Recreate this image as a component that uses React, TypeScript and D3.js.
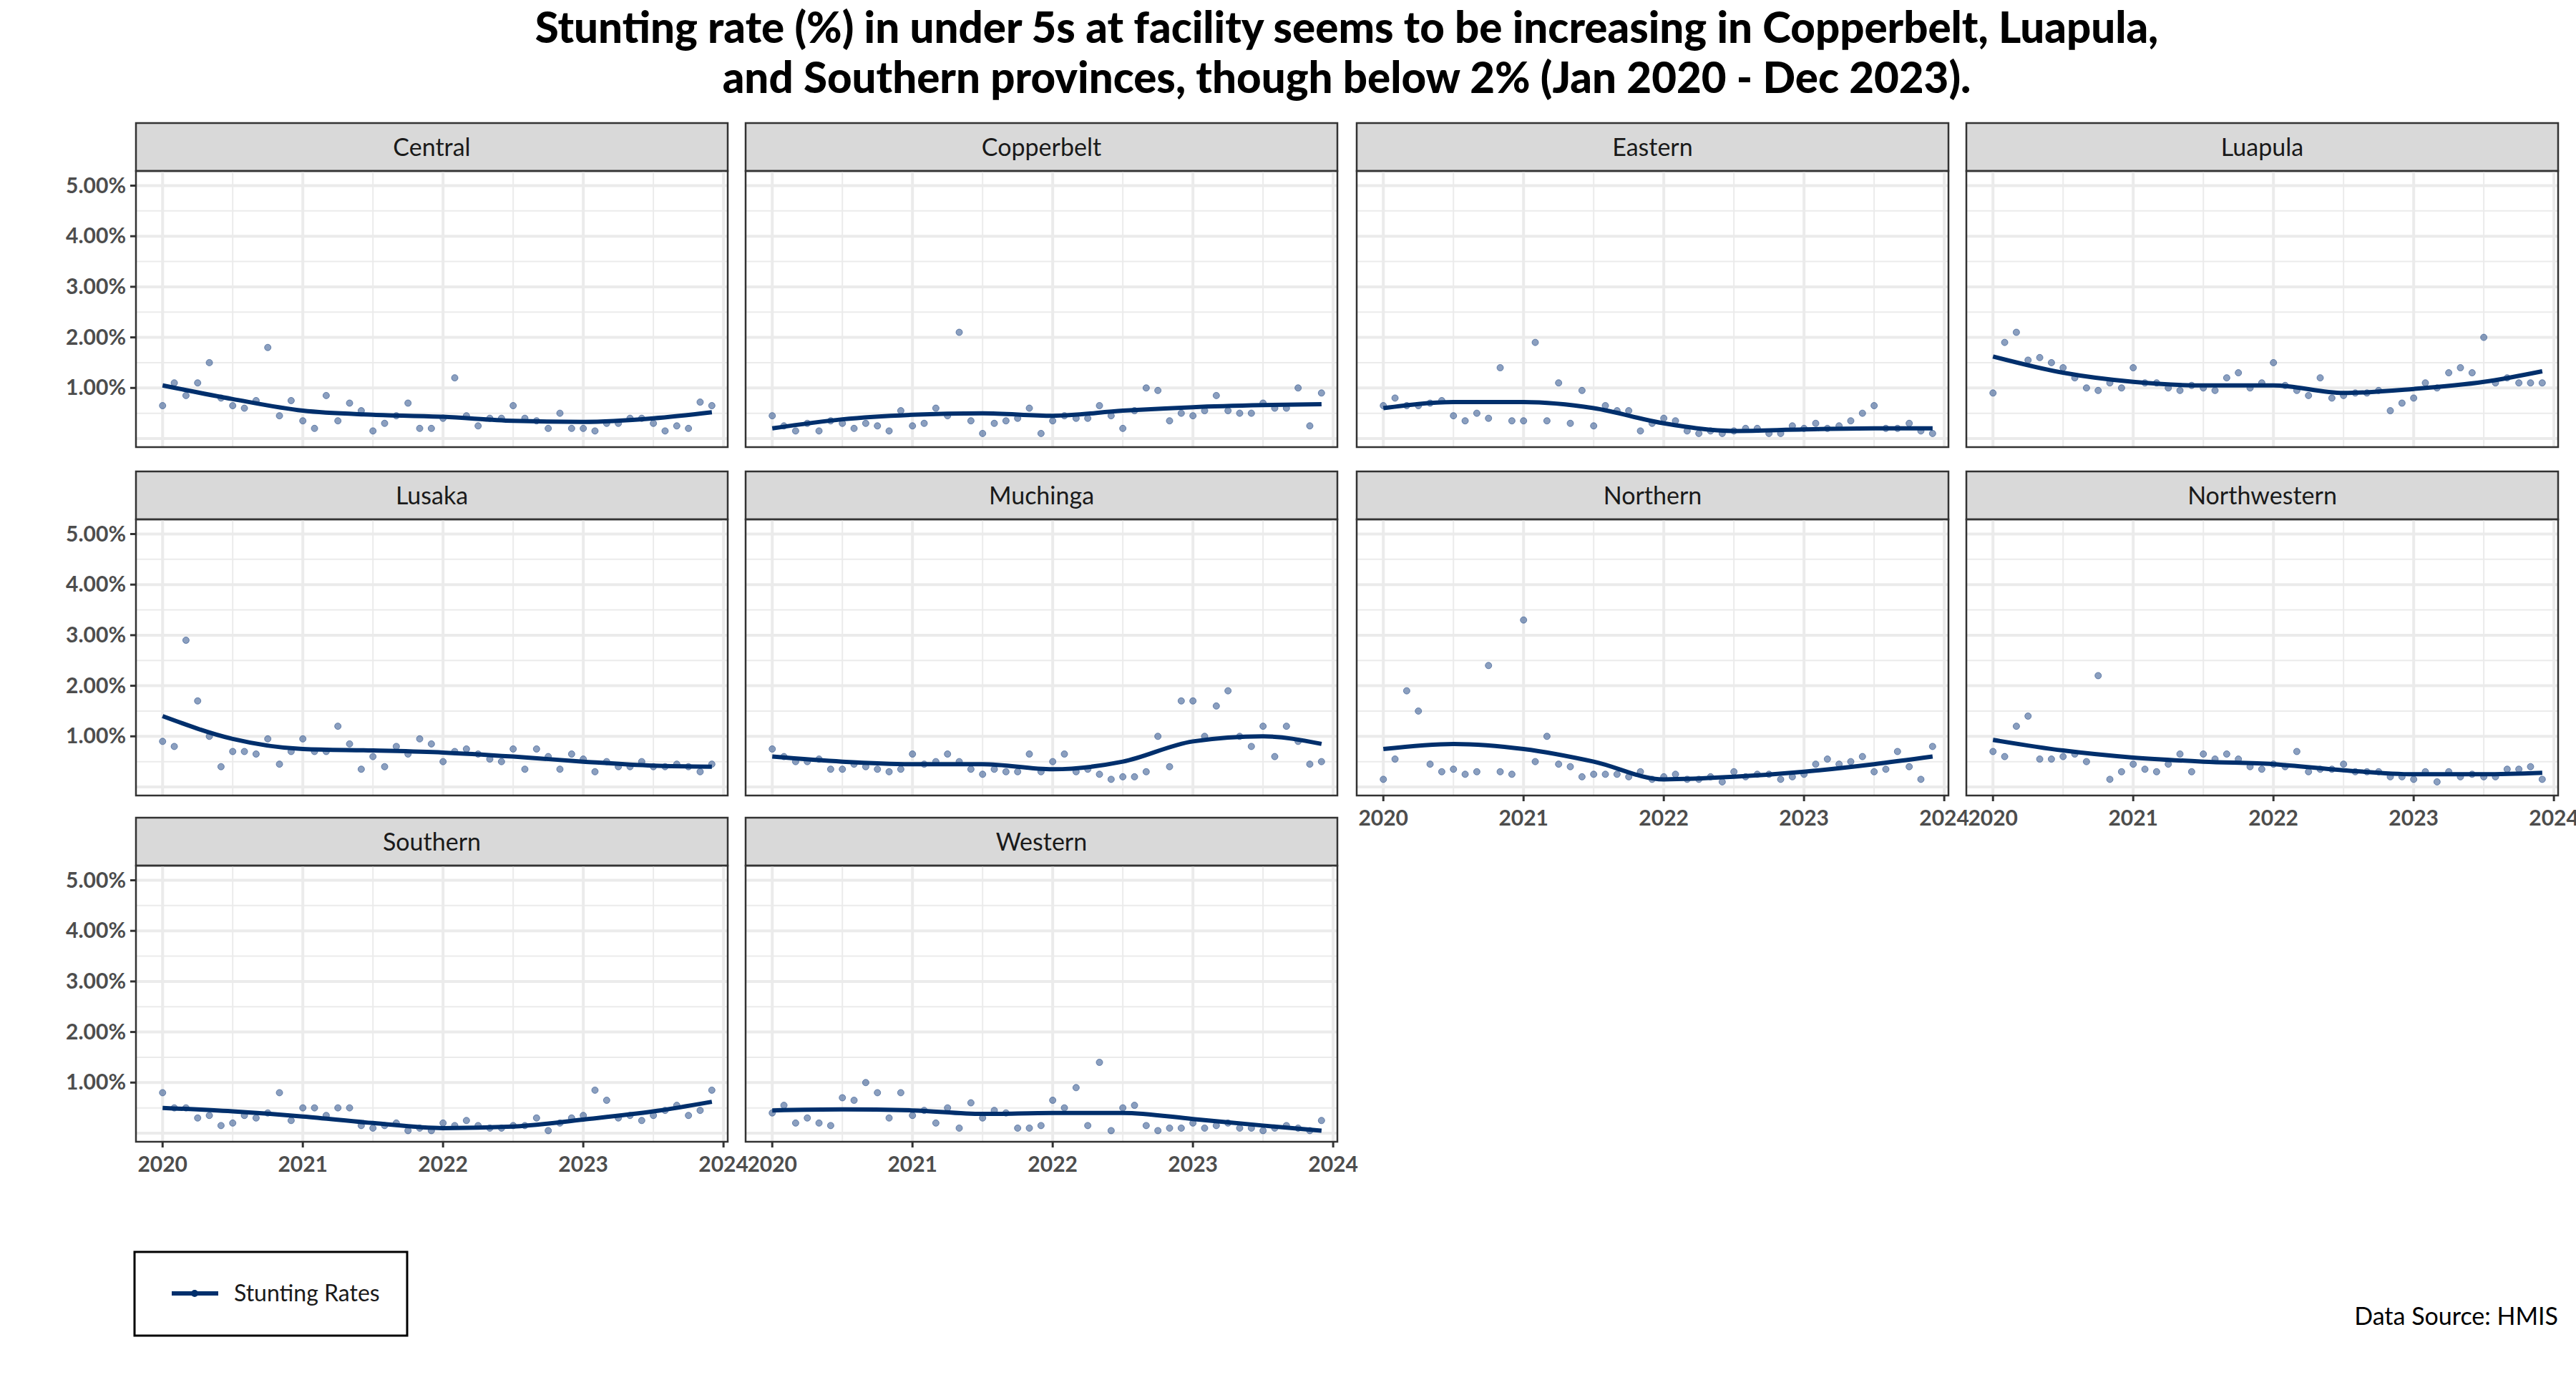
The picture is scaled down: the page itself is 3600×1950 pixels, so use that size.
import React from "react";
import * as d3 from "d3";

const provinces = ["Central","Copperbelt","Eastern","Luapula","Lusaka","Muchinga","Northern","Northwestern","Southern","Western"];
const central = [0.65,1.1,0.85,1.1,1.5,0.8,0.65,0.6,0.75,1.8,0.45,0.75,0.35,0.2,0.85,0.35,0.7,0.55,0.15,0.3,0.45,0.7,0.2,0.2,0.4,1.2,0.45,0.25,0.4,0.4,0.65,0.4,0.35,0.2,0.5,0.2,0.2,0.15,0.3,0.3,0.4,0.4,0.3,0.15,0.25,0.2,0.72,0.65];
const copperbelt = [0.45,0.25,0.15,0.3,0.15,0.35,0.3,0.2,0.3,0.25,0.15,0.55,0.25,0.3,0.6,0.45,2.1,0.35,0.1,0.3,0.35,0.4,0.6,0.1,0.35,0.45,0.4,0.4,0.65,0.45,0.2,0.55,1.0,0.95,0.35,0.5,0.45,0.55,0.85,0.55,0.5,0.5,0.7,0.6,0.6,1.0,0.25,0.9];
const eastern = [0.65,0.8,0.65,0.65,0.7,0.75,0.45,0.35,0.5,0.4,1.4,0.35,0.35,1.9,0.35,1.1,0.3,0.95,0.25,0.65,0.55,0.55,0.15,0.3,0.4,0.35,0.15,0.1,0.15,0.1,0.15,0.2,0.2,0.1,0.1,0.25,0.2,0.3,0.2,0.25,0.35,0.5,0.65,0.2,0.2,0.3,0.15,0.1];
const luapula = [0.9,1.9,2.1,1.55,1.6,1.5,1.4,1.2,1.0,0.95,1.1,1.0,1.4,1.1,1.1,1.0,0.95,1.05,1.0,0.95,1.2,1.3,1.0,1.1,1.5,1.05,0.95,0.85,1.2,0.8,0.85,0.9,0.9,0.95,0.55,0.7,0.8,1.1,1.0,1.3,1.4,1.3,2.0,1.1,1.2,1.1,1.1,1.1];
const lusaka = [0.9,0.8,2.9,1.7,1.0,0.4,0.7,0.7,0.65,0.95,0.45,0.7,0.95,0.7,0.7,1.2,0.85,0.35,0.6,0.4,0.8,0.65,0.95,0.85,0.5,0.7,0.75,0.65,0.55,0.5,0.75,0.35,0.75,0.6,0.35,0.65,0.55,0.3,0.5,0.4,0.4,0.5,0.4,0.4,0.45,0.4,0.3,0.45];
const muchinga = [0.75,0.6,0.5,0.5,0.55,0.35,0.35,0.45,0.4,0.35,0.3,0.35,0.65,0.45,0.5,0.65,0.5,0.35,0.25,0.35,0.3,0.3,0.65,0.3,0.5,0.65,0.3,0.35,0.25,0.15,0.2,0.2,0.3,1.0,0.4,1.7,1.7,1.0,1.6,1.9,1.0,0.8,1.2,0.6,1.2,0.9,0.45,0.5];
const northern = [0.15,0.55,1.9,1.5,0.45,0.3,0.35,0.25,0.3,2.4,0.3,0.25,3.3,0.5,1.0,0.45,0.4,0.2,0.25,0.25,0.25,0.2,0.3,0.15,0.2,0.25,0.15,0.15,0.2,0.1,0.3,0.2,0.25,0.25,0.15,0.2,0.25,0.45,0.55,0.45,0.5,0.6,0.3,0.35,0.7,0.4,0.15,0.8];
const northwestern = [0.7,0.6,1.2,1.4,0.55,0.55,0.6,0.65,0.5,2.2,0.15,0.3,0.45,0.35,0.3,0.45,0.65,0.3,0.65,0.55,0.65,0.55,0.4,0.35,0.45,0.4,0.7,0.3,0.35,0.35,0.45,0.3,0.3,0.3,0.2,0.2,0.15,0.3,0.1,0.3,0.2,0.25,0.2,0.2,0.35,0.35,0.4,0.15];
const southern = [0.8,0.5,0.5,0.3,0.35,0.15,0.2,0.35,0.3,0.4,0.8,0.25,0.5,0.5,0.35,0.5,0.5,0.15,0.1,0.15,0.2,0.05,0.1,0.05,0.2,0.15,0.25,0.15,0.1,0.1,0.15,0.15,0.3,0.05,0.2,0.3,0.35,0.85,0.65,0.3,0.35,0.25,0.35,0.45,0.55,0.35,0.45,0.85];
const western = [0.4,0.55,0.2,0.3,0.2,0.15,0.7,0.65,1.0,0.8,0.3,0.8,0.35,0.45,0.2,0.5,0.1,0.6,0.3,0.45,0.4,0.1,0.1,0.15,0.65,0.5,0.9,0.15,1.4,0.05,0.5,0.55,0.15,0.05,0.1,0.1,0.2,0.1,0.15,0.2,0.1,0.1,0.05,0.1,0.15,0.1,0.05,0.25];
const series = [central,copperbelt,eastern,luapula,lusaka,muchinga,northern,northwestern,southern,western];
const smoothX = [2020,2020.5,2021,2021.5,2022,2022.5,2023,2023.5,2023.917];
const smooths = [
  [1.05,0.78,0.55,0.47,0.43,0.35,0.33,0.4,0.52],
  [0.2,0.38,0.47,0.5,0.45,0.55,0.62,0.66,0.68],
  [0.6,0.72,0.72,0.6,0.3,0.15,0.18,0.2,0.2],
  [1.62,1.3,1.12,1.05,1.05,0.9,0.98,1.12,1.33],
  [1.4,0.95,0.75,0.72,0.68,0.6,0.5,0.42,0.4],
  [0.6,0.5,0.45,0.45,0.35,0.5,0.9,1.0,0.85],
  [0.75,0.85,0.75,0.5,0.15,0.2,0.3,0.45,0.6],
  [0.93,0.72,0.58,0.5,0.45,0.33,0.25,0.25,0.28],
  [0.5,0.43,0.33,0.2,0.1,0.13,0.27,0.43,0.62],
  [0.45,0.47,0.45,0.38,0.4,0.4,0.28,0.15,0.05],
];
const yTicks = [1,2,3,4,5];
const xTicks = [2020,2021,2022,2023,2024];

const colX = [190,1042,1896,2748];
const panelW = 827;
const rowY = [172,659,1143];
const stripH = 67;
const plotH = 386;
const font = "Lato, 'Open Sans', sans-serif";

export default function App() {
  const x = d3.scaleLinear().domain([2019.81, 2024.03]).range([0, panelW]);
  const y = d3.scaleLinear().domain([-0.17, 5.29]).range([plotH, 0]);
  const line = d3.line<number>().x((_, i) => x(smoothX[i])).y(d => y(d)).curve(d3.curveMonotoneX);
  const minorX = [2020.5, 2021.5, 2022.5, 2023.5];
  const minorY = [0.5, 1.5, 2.5, 3.5, 4.5];
  return (
    <svg width={3600} height={1950} style={{ display: "block", position: "absolute", left: 0, top: 0, fontFamily: font }}>
      <rect width={3600} height={1950} fill="#fff" />
      <text x={1882} y={60} textAnchor="middle" fontSize={60} fontWeight={900}>Stunting rate (%) in under 5s at facility seems to be increasing in Copperbelt, Luapula,</text>
      <text x={1882} y={130} textAnchor="middle" fontSize={60} fontWeight={900}>and Southern provinces, though below 2% (Jan 2020 - Dec 2023).</text>
      {provinces.map((p, k) => {
        const c = k % 4, r = Math.floor(k / 4);
        const px = colX[c], py = rowY[r] + stripH;
        const showX = (r === 2) || (r === 1 && c >= 2);
        const vals = series[k];
        return (
          <g key={p}>
            <rect x={px} y={rowY[r]} width={panelW} height={stripH} fill="#d9d9d9" stroke="#333" strokeWidth={2.5} />
            <text x={px + panelW / 2} y={rowY[r] + stripH / 2 + 12} textAnchor="middle" fontSize={34} fill="#1a1a1a">{p}</text>
            <g transform={`translate(${px},${py})`}>
              {minorY.map(v => <line key={"my" + v} x1={0} x2={panelW} y1={y(v)} y2={y(v)} stroke="#ebebeb" strokeWidth={2} />)}
              {minorX.map(v => <line key={"mx" + v} y1={0} y2={plotH} x1={x(v)} x2={x(v)} stroke="#ebebeb" strokeWidth={2} />)}
              {yTicks.concat([0]).map(v => <line key={"y" + v} x1={0} x2={panelW} y1={y(v)} y2={y(v)} stroke="#ebebeb" strokeWidth={4} />)}
              {xTicks.map(v => <line key={"x" + v} y1={0} y2={plotH} x1={x(v)} x2={x(v)} stroke="#ebebeb" strokeWidth={4} />)}
              {vals.map((v, i) => <circle key={i} cx={x(2020 + i / 12)} cy={y(v)} r={4.5} fill="#3d5f94" fillOpacity={0.6} stroke="#3d5f94" strokeOpacity={0.7} strokeWidth={1} />)}
              <path d={line(smooths[k]) || ""} fill="none" stroke="#002f6c" strokeWidth={6} />
              <rect x={0} y={0} width={panelW} height={plotH} fill="none" stroke="#333" strokeWidth={2.5} />
              {c === 0 && yTicks.map(v => (
                <g key={"yl" + v}>
                  <line x1={-8} x2={0} y1={y(v)} y2={y(v)} stroke="#333" strokeWidth={3} />
                  <text x={-14} y={y(v) + 10} textAnchor="end" fontSize={30} fontWeight="bold" fill="#4d4d4d">{v.toFixed(2)}%</text>
                </g>
              ))}
              {showX && xTicks.map(v => (
                <g key={"xl" + v}>
                  <line x1={x(v)} x2={x(v)} y1={plotH} y2={plotH + 8} stroke="#333" strokeWidth={3} />
                  <text x={x(v)} y={plotH + 42} textAnchor="middle" fontSize={30} fontWeight="bold" fill="#4d4d4d">{v}</text>
                </g>
              ))}
            </g>
          </g>
        );
      })}
      <rect x={188} y={1750} width={381} height={117} fill="#fff" stroke="#000" strokeWidth={3} />
      <line x1={240} x2={305} y1={1808} y2={1808} stroke="#002f6c" strokeWidth={6} />
      <circle cx={272} cy={1808} r={5} fill="#002f6c" />
      <text x={327} y={1819} fontSize={32} fill="#1a1a1a">Stunting Rates</text>
      <text x={3575} y={1852} textAnchor="end" fontSize={34} fill="#000">Data Source: HMIS</text>
    </svg>
  );
}
